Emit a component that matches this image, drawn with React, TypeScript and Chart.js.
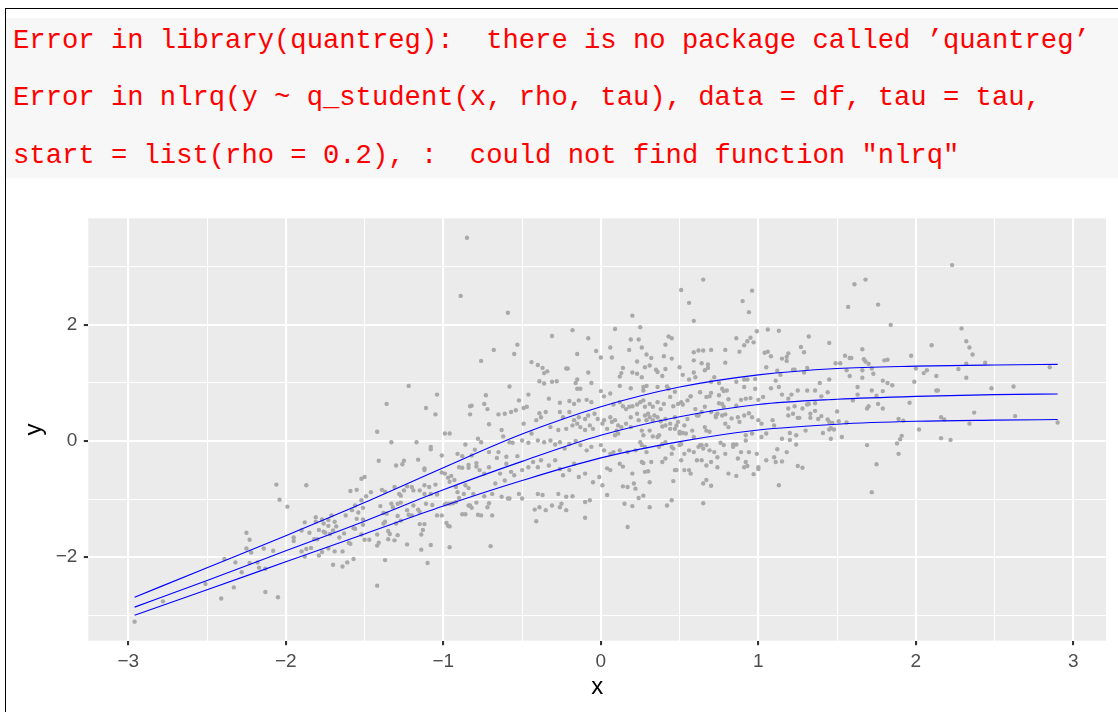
import React, { useEffect, useRef } from 'react';
import { Chart, registerables } from 'chart.js';

Chart.register(...registerables);

const errorLines: string[] = [
  'Error in library(quantreg):  there is no package called \u2019quantreg\u2019',
  'Error in nlrq(y ~ q_student(x, rho, tau), data = df, tau = tau,',
  'start = list(rho = 0.2), :  could not find function "nlrq"',
];

const xTickValues = [-3, -2.5, -2, -1.5, -1, -0.5, 0, 0.5, 1, 1.5, 2, 2.5, 3];
const yTickValues = [-3, -2, -1, 0, 1, 2, 3];
const xRange = [-3.254, 3.207];
const yRange = [-3.438, 3.836];

// quantile curves (tau = 0.9, 0.5, 0.1)
const lineX = [-2.96, -2.5, -2, -1.5, -1, -0.5, 0, 0.5, 1, 1.5, 2, 2.5, 2.9];
const upperQ = [-2.69, -2.18, -1.63, -1.06, -0.46, 0.12, 0.59, 0.93, 1.14, 1.25, 1.29, 1.31, 1.32];
const medianQ = [-2.86, -2.4, -1.89, -1.38, -0.84, -0.35, 0.1, 0.42, 0.63, 0.72, 0.77, 0.8, 0.81];
const lowerQ = [-3.0, -2.56, -2.08, -1.6, -1.12, -0.68, -0.29, -0.01, 0.19, 0.29, 0.34, 0.36, 0.37];

const scatterFarLeft: [number, number][] = [
  [-2.96,-3.11],[-2.78,-2.76],[-2.51,-2.46],[-2.41,-2.71],[-2.39,-2.03],[-2.33,-2.52],[-2.32,-2.09],[-2.28,-2.26],
  [-2.25,-1.58],[-2.23,-1.7],[-2.25,-1.85],[-2.22,-1.92],[-2.23,-2.1],[-2.18,-2.09],[-2.17,-2.18],[-2.13,-2.2],
  [-2.14,-1.85],[-2.13,-2.6],[-2.08,-1.89],[-2.05,-2.69],[-2.06,-0.75],[-2.04,-1.01],[-1.99,-1.13],[-1.87,-0.76],
  [-1.95,-1.72],[-1.95,-1.66],[-1.9,-1.54],[-1.88,-1.4],[-1.85,-1.58],[-1.9,-1.9],[-1.88,-1.99],[-1.87,-1.86],
  [-1.84,-1.84],[-1.81,-1.31],[-1.81,-1.39],[-1.79,-1.53],[-1.82,-1.69],[-1.8,-1.69],[-1.77,-1.35],[-1.76,-1.56],
  [-1.73,-1.46],[-1.77,-1.91],[-1.79,-1.97],[-1.73,-1.85],
];

const scatterLeft: [number, number][] = [
  [-1.22,0.95],[-1.04,0.8],[-1.36,0.64],[-1.11,0.57],[-1.05,0.46],[-1.42,0.16],[-1.33,-0.02],[-1.17,-0.02],
  [-0.99,0.13],[-0.96,0.13],[-0.83,0.46],[-0.78,0.04],[-1.08,-0.14],[-1.08,-0.1],[-1.01,-0.25],[-1.16,-0.32],
  [-1.41,-0.34],[-1.25,-0.34],[-1.26,-0.4],[-1.3,-0.42],[-1.12,-0.47],[-1.12,-0.5],
  [-1.52,-0.65],[-1.5,-0.62],[-1.59,-0.86],[-1.55,-0.84],[-1.49,-0.95],[-1.46,-0.88],[-1.39,-0.84],[-1.37,-0.87],
  [-1.31,-0.79],[-1.28,-0.91],[-1.27,-0.94],[-1.25,-0.85],[-1.23,-0.78],[-1.2,-0.79],[-1.19,-0.85],[-1.15,-0.85],
  [-1.12,-0.76],[-1.12,-0.91],[-1.09,-0.79],[-1.08,-0.91],[-1.05,-0.75],[-1.04,-0.91],[-1.01,-0.54],[-0.99,-0.56],
  [-0.97,-0.63],[-0.96,-0.7],[-0.95,-0.6],[-0.93,-0.67],[-0.91,-0.22],[-0.88,-0.26],[-0.86,-0.06],[-0.9,-0.45],
  [-0.88,-0.46],[-0.84,-0.41],[-0.84,-0.46],[-0.8,-0.15],[-0.79,-0.38],[-0.79,-0.44],[-0.92,-0.79],[-0.91,-0.88],
  [-0.86,-0.76],[-0.84,-0.81],[-0.81,-0.91],
  [-1.52,-1.02],[-1.56,-1.11],[-1.58,-1.19],[-1.54,-1.23],[-1.51,-1.15],[-1.55,-1.34],[-1.57,-1.5],[-1.56,-1.51],
  [-1.51,-1.35],[-1.51,-1.44],[-1.52,-1.61],[-1.5,-1.7],[-1.47,-1.7],[-1.42,-1.61],[-1.41,-1.75],[-1.42,-1.8],
  [-1.4,-1.12],[-1.38,-1.24],[-1.36,-1.25],[-1.38,-1.42],[-1.37,-1.39],[-1.35,-1.55],[-1.34,-1.6],[-1.35,-1.69],
  [-1.31,-1.71],[-1.33,-1.08],[-1.32,-1.14],[-1.29,-1.08],[-1.27,-1.06],[-1.29,-1.29],[-1.27,-1.37],[-1.3,-1.42],
  [-1.29,-1.62],[-1.23,-1.19],[-1.22,-1.27],[-1.2,-1.28],[-1.19,-1.11],[-1.16,-1.18],[-1.15,-1.22],[-1.23,-1.78],
  [-1.15,-1.43],[-1.12,-1.43],[-1.13,-1.53],[-1.14,-1.61],[-1.14,-1.87],[-1.1,-2.1],[-1.08,-1.79],[-1.37,-2.05],
  [-1.42,-2.49],[-1.11,-1.08],[-1.07,-1.1],[-1.04,-0.92],[-1.04,-1.28],[-1.01,-1.28],[-0.99,-1.09],[-0.98,-1.08],
  [-0.96,-1.08],[-0.98,-1.41],[-0.97,-1.46],[-0.96,-1.47],[-0.96,-1.83],[-0.94,-1.07],[-0.92,-1.05],[-0.9,-0.98],
  [-0.87,-0.91],[-0.88,-1.26],[-0.86,-1.26],[-0.84,-1.11],[-0.83,-1.11],[-0.82,-1.15],[-0.79,-1.06],[-0.78,-1.27],
  [-1.76,-1.42],[-1.7,-1.54],[-1.68,-1.47],[-1.75,-1.58],[-1.72,-1.6],[-1.71,-1.28],[-1.73,-1.36],[-1.69,-1.39],
  [-1.66,-1.66],[-1.63,-1.59],[-1.62,-1.28],[-1.69,-1.9],[-1.64,-1.9],[-1.6,-1.75],[-1.59,-1.77],[-1.64,-2.16],
  [-1.61,-2.09],[-1.57,-2.03],[-1.7,-2.13],
];

const scatterCenter: [number, number][] = [
  [-0.85,3.5],[-0.89,2.5],[-0.59,2.21],[-0.68,1.57],[-0.76,1.38],[-0.55,1.5],[-0.53,1.66],[-0.58,0.94],
  [-0.31,1.81],[-0.18,1.91],[-0.08,1.77],[-0.15,1.5],[-0.03,1.55],[0.0,1.44],
  [-0.44,1.36],[-0.4,1.31],[-0.37,1.26],[-0.34,1.2],[-0.36,1.17],[-0.22,1.25],[-0.21,1.25],[-0.08,1.18],
  [-0.39,1.03],[-0.36,0.99],[-0.31,1.02],[-0.28,1.03],[-0.16,1.0],[-0.15,1.06],[-0.13,0.9],[-0.15,0.9],[-0.06,1.0],
  [0.0,0.86],[0.02,0.77],[-0.46,0.8],[-0.52,0.7],[-0.74,0.64],[-0.73,0.79],[-0.83,0.6],[-0.82,0.61],[-0.72,0.55],
  [-0.33,0.73],[-0.26,0.66],[-0.2,0.69],[-0.17,0.64],[-0.14,0.7],[-0.09,0.71],[-0.06,0.67],[0.06,0.82],
  [-0.65,0.46],[-0.61,0.47],[-0.57,0.5],[-0.54,0.53],[-0.49,0.57],[-0.47,0.59],[-0.39,0.48],[-0.35,0.5],
  [-0.38,0.41],[-0.26,0.5],[-0.24,0.41],[-0.2,0.5],[-0.17,0.36],[-0.14,0.41],[-0.1,0.38],[-0.08,0.44],
  [-0.04,0.47],[-0.02,0.38],[0.02,0.36],
  [-0.71,0.29],[-0.63,0.19],[-0.62,0.08],[-0.49,0.3],[-0.41,0.36],[-0.44,0.13],[-0.32,0.24],[-0.27,0.19],
  [-0.22,0.21],[-0.18,0.27],[-0.15,0.3],[-0.13,0.24],[-0.1,0.19],[-0.07,0.27],[-0.05,0.21],[0.01,0.3],[0.04,0.21],
  [-0.76,-0.02],[-0.58,-0.02],[-0.56,-0.03],[-0.5,0.01],[-0.46,-0.03],[-0.4,0.01],[-0.36,-0.02],[-0.32,0.01],
  [-0.29,-0.06],[-0.26,-0.02],[-0.23,-0.13],[-0.2,-0.05],[-0.16,0.0],[-0.13,-0.07],[-0.09,-0.16],[-0.06,-0.1],
  [0.0,-0.07],[0.02,-0.16],
  [-0.82,-0.25],[-0.77,-0.5],[-0.71,-0.19],[-0.65,-0.19],[-0.66,-0.29],[-0.6,-0.27],[-0.53,-0.26],[-0.6,-0.39],
  [-0.71,-0.45],[-0.74,-0.56],[-0.64,-0.56],[-0.61,-0.68],[-0.67,-0.73],[-0.55,-0.59],[-0.5,-0.5],[-0.46,-0.45],
  [-0.43,-0.36],[-0.4,-0.45],[-0.38,-0.33],[-0.33,-0.42],[-0.29,-0.33],[-0.26,-0.48],[-0.24,-0.59],[-0.2,-0.5],
  [-0.17,-0.39],[-0.14,-0.62],[-0.1,-0.56],[-0.05,-0.71],[-0.01,-0.62],[0.01,-0.76],[0.04,-0.47],[-0.57,-0.53],
  [-0.74,-0.95],[-0.69,-0.91],[-0.63,-0.96],[-0.59,-0.99],[-0.58,-0.99],[-0.52,-0.91],[-0.5,-0.99],[-0.4,-0.91],
  [-0.37,-0.93],[-0.27,-0.91],[-0.22,-0.96],[-0.18,-0.95],[-0.1,-1.05],[-0.07,-1.02],[0.04,-0.93],[-0.71,-1.07],
  [-0.72,-1.14],[-0.76,-1.28],[-0.69,-1.28],[-0.42,-1.18],[-0.39,-1.14],[-0.35,-1.19],[-0.31,-1.11],[-0.26,-1.14],
  [-0.25,-1.08],[-0.22,-1.19],[-0.1,-1.32],[-0.41,-1.38],[-0.7,-1.81],
];

const scatterCenterRight: [number, number][] = [
  [0.65,2.78],[0.51,2.6],[0.56,2.38],[0.59,2.07],[0.96,2.59],[0.9,2.41],[0.94,2.22],[0.2,2.16],[0.09,1.93],
  [0.25,1.96],[0.19,1.75],[0.24,1.75],[0.26,1.61],[0.06,1.61],[0.07,1.44],[0.18,1.57],[0.29,1.49],[0.43,1.8],
  [0.45,1.77],[0.41,1.66],[0.4,1.46],[0.45,1.42],[0.32,1.43],[0.23,1.37],[0.28,1.27],[0.31,1.3],[0.14,1.26],
  [0.13,1.17],[0.12,1.11],[0.2,1.18],[0.23,1.16],[0.26,1.1],[0.35,1.23],[0.36,1.19],[0.39,1.12],[0.41,1.24],
  [0.5,1.27],[0.52,1.14],[0.56,1.06],[0.59,1.39],[0.62,1.56],[0.59,1.53],[0.65,1.56],[0.59,1.18],[0.6,1.1],
  [0.64,1.34],[0.66,1.22],[0.68,1.26],[0.68,1.32],[0.7,1.57],[0.7,1.02],[0.72,1.1],[0.75,1.0],[0.79,1.57],
  [0.79,1.35],[0.77,0.9],[0.78,0.86],[0.8,0.87],[0.86,1.77],[0.88,1.54],[0.91,1.65],[0.93,1.72],[0.95,1.78],
  [0.97,1.7],[0.99,1.89],[1.06,1.92],[1.13,1.9],[1.04,1.52],[1.06,1.54],[1.08,1.46],[1.05,1.27],[0.91,1.06],
  [0.93,1.06],[0.98,1.07],[0.86,1.02],[0.91,0.93],[0.98,0.9],[1.08,0.91],[1.11,1.04],[0.12,0.95],[0.19,0.91],
  [0.27,0.93],[0.27,0.87],[0.29,0.95],[0.36,0.93],[0.42,0.94],[0.43,0.9],[0.47,0.85],[0.57,0.77],[0.63,0.84],
  [0.67,0.76],[0.69,0.77],[0.7,0.83],[0.75,0.79],[0.77,0.64],[0.75,0.65],[0.81,0.72],[0.86,0.61],[0.89,0.71],
  [0.92,0.73],[0.95,0.74],[1.0,0.71],[1.03,0.76],
  [0.08,0.63],[0.12,0.67],[0.14,0.6],[0.16,0.55],[0.18,0.59],[0.2,0.6],[0.23,0.63],[0.25,0.67],[0.27,0.7],
  [0.28,0.59],[0.31,0.64],[0.33,0.59],[0.36,0.67],[0.38,0.55],[0.4,0.64],[0.44,0.76],[0.46,0.6],[0.49,0.64],
  [0.51,0.67],[0.52,0.63],[0.55,0.7],[0.57,0.77],[0.6,0.55],[0.61,0.44],[0.64,0.5],[0.66,0.59],[0.7,0.5],
  [0.73,0.44],[0.78,0.59],[0.79,0.46],[0.83,0.39],
  [0.06,0.41],[0.07,0.33],[0.09,0.36],[0.11,0.27],[0.1,0.18],[0.13,0.24],[0.09,0.1],[0.11,0.13],[0.16,0.3],
  [0.19,0.41],[0.19,0.24],[0.23,0.47],[0.24,0.36],[0.26,0.18],[0.28,0.44],[0.29,0.36],[0.3,0.47],[0.31,0.41],
  [0.33,0.36],[0.34,0.44],[0.36,0.41],[0.38,0.34],[0.39,0.25],[0.41,0.38],[0.44,0.3],[0.44,0.21],[0.47,0.41],
  [0.48,0.27],[0.49,0.33],[0.5,0.16],[0.53,0.27],[0.55,0.38],[0.58,0.18],[0.62,0.44],[0.66,0.24],[0.67,0.18],
  [0.69,0.16],[0.73,0.41],[0.74,0.47],[0.77,0.44],[0.79,0.3],[0.81,0.24],[0.87,0.41],[0.88,0.33],[0.91,0.44],
  [0.94,0.48],[0.96,0.41],[1.0,0.36],[1.02,0.3],[1.05,0.13],[1.09,0.36],[1.1,0.27],[0.27,0.1],[0.31,0.18],
  [0.33,0.08],[0.36,0.07],[0.37,0.1],[0.41,0.27],[0.47,0.21],[0.5,0.13],[0.52,0.14],[0.54,0.13],[0.59,0.07],
  [0.64,-0.07],[0.67,-0.07],[0.76,-0.03],[0.84,-0.06],[0.86,-0.06],[0.92,0.1],[0.92,0.01],[0.96,0.13],[1.02,0.07],
  [0.06,-0.22],[0.08,-0.19],[0.12,-0.16],[0.17,-0.19],[0.22,-0.16],[0.25,-0.02],[0.26,-0.07],[0.28,-0.1],
  [0.29,-0.19],[0.37,-0.1],[0.39,-0.05],[0.41,-0.02],[0.45,-0.1],[0.46,-0.13],[0.5,-0.07],[0.51,-0.05],
  [0.53,-0.22],[0.56,-0.16],[0.59,-0.19],[0.62,-0.1],[0.63,-0.07],[0.65,-0.13],[0.69,-0.16],[0.72,-0.19],
  [0.74,-0.28],[0.78,-0.07],[0.79,-0.22],[0.84,-0.1],[0.87,-0.3],[0.89,-0.19],[0.92,-0.36],[0.94,-0.19],
  [0.99,-0.22],[1.0,-0.45],[1.05,-0.33],[1.1,-0.28],[1.11,-0.36],
  [0.06,-0.5],[0.12,-0.39],[0.14,-0.44],[0.2,-0.56],[0.26,-0.36],[0.27,-0.38],[0.28,-0.53],[0.3,-0.52],
  [0.32,-0.36],[0.39,-0.36],[0.41,-0.3],[0.45,-0.22],[0.47,-0.5],[0.48,-0.5],[0.51,-0.33],[0.53,-0.5],
  [0.56,-0.5],[0.57,-0.56],[0.61,-0.33],[0.64,-0.33],[0.67,-0.42],[0.7,-0.36],[0.74,-0.45],[0.81,-0.56],
  [0.86,-0.6],[0.91,-0.45],[0.93,-0.43],[0.97,-0.57],[1.0,-0.48],
  [0.14,-0.78],[0.17,-0.79],[0.21,-0.73],[0.22,-0.82],[0.27,-0.94],[0.24,-0.98],[0.31,-0.71],[0.45,-1.02],
  [0.42,-1.11],[0.46,-0.69],[0.65,-0.73],[0.67,-0.67],[0.7,-0.77],[0.65,-1.07],[0.15,-1.08],[0.2,-1.12],
  [0.31,-1.14],[0.17,-1.48],[1.13,-0.76],
];

const scatterRight: [number, number][] = [
  [2.23,3.03],[1.61,2.7],[1.68,2.78],[1.57,2.31],[1.76,2.35],[1.84,2.0],[2.29,1.94],[2.32,1.72],[2.34,1.61],
  [2.36,1.49],[2.1,1.65],[1.97,1.47],[2.44,1.35],[2.27,1.24],[2.32,1.33],[2.32,1.09],[2.85,1.27],[2.0,1.25],
  [2.05,1.17],[2.07,1.22],[2.13,1.12],[1.99,1.02],[2.13,0.87],[2.14,0.87],[2.48,0.91],[2.62,0.94],[1.96,0.66],
  [2.37,0.49],[2.16,0.41],[2.18,0.37],[2.34,0.3],[2.63,0.43],[2.9,0.32],[2.02,0.2],[2.16,0.05],[2.22,0.02],
  [1.89,0.38],[1.92,0.35],[1.91,0.09],[1.9,0.03],[1.88,-0.04],[1.89,-0.22],[1.69,-0.07],[1.75,-0.4],
  [1.32,1.8],[1.27,1.62],[1.29,1.53],[1.45,1.69],[1.15,1.42],[1.18,1.45],[1.19,1.51],[1.18,1.38],[1.12,1.21],
  [1.14,1.14],[1.22,1.23],[1.23,1.23],[1.29,1.18],[1.31,1.26],[1.49,1.34],[1.52,1.34],[1.55,1.47],[1.58,1.43],
  [1.59,1.43],[1.56,1.22],[1.58,1.12],[1.66,1.58],[1.67,1.41],[1.68,1.37],[1.7,1.33],[1.66,1.22],[1.66,1.09],
  [1.72,1.25],[1.73,1.16],[1.8,1.39],[1.82,1.4],[1.79,1.04],[1.82,1.0],[1.85,0.96],[1.72,0.87],[1.63,0.93],
  [1.63,0.8],[1.79,0.86],[1.75,0.78],[1.76,0.64],[1.79,0.56],[1.6,0.7],[1.7,0.6],[1.69,0.56],[1.45,1.06],
  [1.39,1.0],[1.44,0.84],[1.4,0.77],[1.36,0.87],[1.31,0.87],[1.25,0.87],[1.13,0.93],[1.15,0.8],[1.19,0.73],
  [1.21,0.8],[1.28,0.56],[1.32,0.64],[1.36,0.65],[1.31,0.63],[1.23,0.6],[1.19,0.56],[1.19,0.44],[1.25,0.4],
  [1.26,0.4],[1.22,0.47],[1.33,0.47],[1.33,0.4],[1.36,0.52],[1.38,0.38],[1.4,0.43],[1.44,0.37],[1.45,0.33],
  [1.47,0.31],[1.46,0.22],[1.48,0.2],[1.45,0.2],[1.5,0.51],[1.51,0.34],[1.56,0.32],[1.41,0.14],[1.46,0.04],
  [1.53,0.07],[1.15,0.04],[1.2,0.02],[1.2,0.14],[1.24,0.1],[1.3,0.18],[1.24,-0.06],[1.12,-0.14],[1.18,-0.19],
  [1.15,-0.35],[1.25,-0.43],[1.28,-0.46],[1.72,-0.88],
];

const fmt = (v: number) => (v < 0 ? '\u2212' + Math.abs(v) : String(v));
const isMajorX = (v: number) => Number.isInteger(v);
const isMajorY = (v: number) => Number.isInteger(v) && Math.abs(v) % 2 === 0;

export default function App() {
  const ref = useRef<HTMLCanvasElement>(null);

  useEffect(() => {
    const canvas = ref.current;
    if (!canvas) return;
    const pts = [...scatterFarLeft, ...scatterLeft, ...scatterCenter, ...scatterCenterRight, ...scatterRight].map(
      ([x, y]) => ({ x, y })
    );
    const curve = (ys: number[]) => lineX.map((x, i) => ({ x, y: ys[i] }));
    const panelBg = {
      id: 'panelBg',
      beforeDraw(chart: any) {
        const { ctx, chartArea } = chart;
        ctx.save();
        ctx.fillStyle = '#EBEBEB';
        ctx.fillRect(chartArea.left, chartArea.top, chartArea.right - chartArea.left, chartArea.bottom - chartArea.top);
        ctx.restore();
      },
    };
    const fontFamily = "'Liberation Sans', Arial, sans-serif";
    const lineStyle = {
      showLine: true,
      borderColor: '#0000FF',
      borderWidth: 1.1,
      pointRadius: 0,
      fill: false,
      cubicInterpolationMode: 'monotone' as const,
      order: 1,
    };
    const chart = new Chart(canvas, {
      type: 'scatter',
      data: {
        datasets: [
          { ...lineStyle, label: 'tau 0.9', data: curve(upperQ) },
          { ...lineStyle, label: 'tau 0.5', data: curve(medianQ) },
          { ...lineStyle, label: 'tau 0.1', data: curve(lowerQ) },
          {
            label: 'points',
            data: pts,
            pointRadius: 2.2,
            pointBackgroundColor: '#A9A9A9',
            pointBorderWidth: 0,
            borderColor: 'rgba(0,0,0,0)',
            showLine: false,
            order: 2,
          },
        ],
      },
      options: {
        responsive: false,
        animation: false,
        events: [],
        layout: { padding: { top: 218.3, right: 12, bottom: 0, left: 0 } },
        plugins: { legend: { display: false }, tooltip: { enabled: false }, title: { display: false } },
        scales: {
          x: {
            type: 'linear',
            min: xRange[0],
            max: xRange[1],
            afterBuildTicks: (s: any) => {
              s.ticks = xTickValues.map((v) => ({ value: v }));
            },
            afterFit: (s: any) => {
              s.height = 71.3;
            },
            border: { display: false },
            grid: {
              color: '#FFFFFF',
              lineWidth: (c: any) => (c.tick && isMajorX(c.tick.value) ? 2.1 : 1.05),
              drawTicks: true,
              tickLength: 4.5,
              tickWidth: 2.1,
              tickColor: (c: any) => (c.tick && isMajorX(c.tick.value) ? '#333333' : 'rgba(0,0,0,0)'),
            },
            ticks: {
              autoSkip: false,
              maxRotation: 0,
              padding: 5.6,
              color: '#4D4D4D',
              font: { family: fontFamily, size: 19 },
              callback: (v: any) => (isMajorX(Number(v)) ? fmt(Number(v)) : ''),
            },
            title: {
              display: true,
              text: 'x',
              color: '#000000',
              font: { family: fontFamily, size: 24 },
              padding: { top: 0, bottom: 10.2 },
            },
          },
          y: {
            type: 'linear',
            min: yRange[0],
            max: yRange[1],
            afterBuildTicks: (s: any) => {
              s.ticks = yTickValues.map((v) => ({ value: v }));
            },
            afterFit: (s: any) => {
              s.width = 88.3;
            },
            border: { display: false },
            grid: {
              color: '#FFFFFF',
              lineWidth: (c: any) => (c.tick && isMajorY(c.tick.value) ? 2.1 : 1.05),
              drawTicks: true,
              tickLength: 4.5,
              tickWidth: 2.1,
              tickColor: (c: any) => (c.tick && isMajorY(c.tick.value) ? '#333333' : 'rgba(0,0,0,0)'),
            },
            ticks: {
              autoSkip: false,
              padding: 6.5,
              color: '#4D4D4D',
              font: { family: fontFamily, size: 19 },
              callback: (v: any) => (isMajorY(Number(v)) ? fmt(Number(v)) : ''),
            },
            title: {
              display: true,
              text: 'y',
              color: '#000000',
              font: { family: fontFamily, size: 24 },
              padding: { top: 20, bottom: 0 },
            },
          },
        },
      },
      plugins: [panelBg],
    } as any);
    return () => chart.destroy();
  }, []);

  return (
    <div
      style={{
        position: 'fixed',
        left: 0,
        top: 0,
        width: 1118,
        height: 712,
        overflow: 'hidden',
        background: '#FFFFFF',
      }}
    >
      <div
        style={{
          position: 'absolute',
          left: 5,
          top: 8,
          width: 1200,
          height: 800,
          borderLeft: '1px solid #000000',
          borderTop: '1px solid #000000',
        }}
      />
      <div style={{ position: 'absolute', left: 6, top: 17.5, width: 1200, height: 160.2, background: '#F7F7F7' }} />
      {errorLines.map((t, i) => (
        <div
          key={i}
          style={{
            position: 'absolute',
            left: 13,
            top: 11.7 + i * 57.5,
            height: 57.5,
            lineHeight: '57.5px',
            fontFamily: "'Liberation Mono', monospace",
            fontSize: 27.2,
            color: '#FF0000',
            whiteSpace: 'pre',
          }}
        >
          {t}
        </div>
      ))}
      <canvas
        ref={ref}
        width={1118}
        height={712}
        style={{ position: 'absolute', left: 0, top: 0, width: 1118, height: 712 }}
      />
    </div>
  );
}
